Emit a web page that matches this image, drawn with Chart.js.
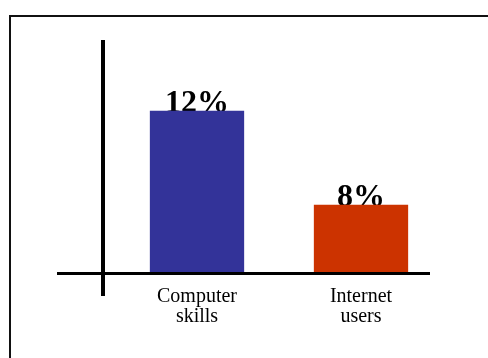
<!DOCTYPE html>
<html>
<head>
<meta charset="utf-8">
<script src="https://cdn.jsdelivr.net/npm/chart.js@4/dist/chart.umd.min.js"></script>
<style>
  html, body { margin: 0; padding: 0; background: #fff; overflow: hidden; }
  #wrap { position: relative; width: 488px; height: 358px; }
  .frame {
    position: absolute; left: 9px; top: 15px;
    width: 600px; height: 500px;
    border: 2px solid #111;
  }
  #chart { position: absolute; left: 0; top: 0; }
</style>
</head>
<body>
<div id="wrap">
  <div class="frame"></div>
  <canvas id="chart" width="488" height="358"></canvas>
</div>
<script>
  const categories = [['Computer', 'skills'], ['Internet', 'users']];
  const percents = [12, 8];
  const barColors = ['#333399', '#CC3300'];

  // crossing axis lines, drawn off the chart area edges
  const crossAxes = {
    id: 'crossAxes',
    afterDatasetsDraw(chart) {
      const { ctx, chartArea } = chart;
      ctx.save();
      ctx.strokeStyle = '#000';
      ctx.lineWidth = 4;
      ctx.beginPath();
      ctx.moveTo(chartArea.left - 12, chartArea.top);
      ctx.lineTo(chartArea.left - 12, chartArea.bottom + 24);
      ctx.stroke();
      ctx.lineWidth = 3;
      ctx.beginPath();
      ctx.moveTo(chartArea.left - 58, chartArea.bottom + 1.5);
      ctx.lineTo(chartArea.right - 13, chartArea.bottom + 1.5);
      ctx.stroke();
      ctx.restore();
    }
  };

  // percentage labels sitting on top of each bar
  const barLabels = {
    id: 'barLabels',
    beforeDatasetsDraw(chart) {
      const { ctx } = chart;
      const meta = chart.getDatasetMeta(0);
      ctx.save();
      ctx.fillStyle = '#000';
      ctx.font = 'bold 32px "Liberation Serif", "Times New Roman", serif';
      ctx.textAlign = 'center';
      ctx.textBaseline = 'alphabetic';
      meta.data.forEach((bar, i) => {
        ctx.fillText(percents[i] + '%', bar.x, bar.y + 1);
      });
      ctx.restore();
    }
  };

  new Chart(document.getElementById('chart'), {
    type: 'bar',
    data: {
      labels: categories,
      datasets: [{
        data: percents,
        backgroundColor: barColors,
        borderWidth: 0,
        categoryPercentage: 1,
        barPercentage: 0.575
      }]
    },
    options: {
      responsive: false,
      animation: false,
      layout: { padding: { left: 115, right: 45, top: 40, bottom: 0 } },
      plugins: {
        legend: { display: false },
        tooltip: { enabled: false }
      },
      scales: {
        x: {
          grid: { display: false, drawTicks: false },
          border: { display: false },
          ticks: {
            color: '#000',
            padding: 15,
            maxRotation: 0,
            font: { family: '"Liberation Serif", "Times New Roman", serif', size: 20, lineHeight: 1 }
          },
          afterFit(scale) { scale.height = 86; }
        },
        y: {
          display: false,
          min: 5.15,
          max: 15
        }
      }
    },
    plugins: [barLabels, crossAxes]
  });
</script>
</body>
</html>
